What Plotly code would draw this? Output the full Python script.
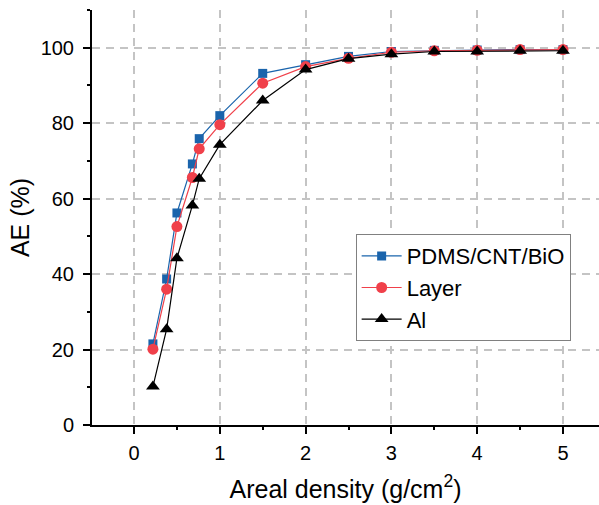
import plotly.graph_objects as go

# Areal density (g/cm^2)
density = [0.22, 0.38, 0.50, 0.68, 0.76, 1.0, 1.5, 2.0, 2.5, 3.0, 3.5, 4.0, 4.5, 5.0]

# Absorption efficiency AE (%)
ae_pdms = [21.5, 38.7, 56.2, 69.2, 75.9, 82.0, 93.2, 95.5, 97.7, 99.0, 99.3, 99.4, 99.5, 99.5]
ae_layer = [20.1, 36.0, 52.6, 65.6, 73.2, 79.6, 90.6, 95.0, 97.2, 98.8, 99.2, 99.3, 99.5, 99.5]
ae_al = [10.2, 25.4, 44.2, 58.2, 65.3, 74.3, 86.0, 94.2, 97.1, 98.3, 99.0, 99.0, 99.2, 99.2]

names = ["PDMS/CNT/BiO", "Layer", "Al"]
colors = ["#1a64ac", "#f0404a", "#000000"]
symbols = ["square", "circle", "triangle-up"]
sizes = [9, 11, 12]

FONT = "Liberation Sans, Arial, sans-serif"

fig = go.Figure()
for name, ys, col, sym, sz in zip(names, [ae_pdms, ae_layer, ae_al], colors, symbols, sizes):
    fig.add_trace(go.Scatter(
        x=density, y=ys, name=name, mode="lines+markers",
        line=dict(color=col, width=1.2),
        marker=dict(symbol=sym, size=sz, color=col, line=dict(width=0)),
    ))

grid = dict(showgrid=True, gridcolor="#c4c4c4", gridwidth=1.5, griddash="8px,6px")
tickstyle = dict(ticks="outside", ticklen=7, tickwidth=2, tickcolor="#000")
minorstyle = dict(ticks="outside", ticklen=3, tickwidth=2, tickcolor="#000", showgrid=False)

fig.update_xaxes(
    range=[-0.49, 5.42], tickvals=[0, 1, 2, 3, 4, 5],
    showline=True, linecolor="#000", linewidth=2, zeroline=False,
    minor=dict(dtick=0.5, tick0=0, **minorstyle),
    tickfont=dict(family=FONT, size=20, color="#000"), ticklabelstandoff=2,
    title=dict(text="Areal density (g/cm<sup>2</sup>)", font=dict(family=FONT, size=25, color="#000"), standoff=17),
    **tickstyle, **grid,
)
fig.update_yaxes(
    range=[0, 110], tickvals=[0, 20, 40, 60, 80, 100],
    showline=True, linecolor="#000", linewidth=2, zeroline=False,
    minor=dict(dtick=10, tick0=0, **minorstyle),
    tickfont=dict(family=FONT, size=20, color="#000"), ticklabelstandoff=5,
    title=dict(text="AE (%)", font=dict(family=FONT, size=25, color="#000"), standoff=4),
    **tickstyle, **grid,
)

fig.update_layout(
    width=599, height=505,
    margin=dict(l=92, r=0, t=10, b=80),
    paper_bgcolor="white", plot_bgcolor="white",
    showlegend=True,
    legend=dict(
        x=0.52, y=0.46, xanchor="left", yanchor="top",
        bgcolor="white", bordercolor="#808080", borderwidth=1,
        font=dict(family=FONT, size=22, color="#000"),
        tracegroupgap=0, itemwidth=40,
    ),
)

fig.write_html("out.html")
